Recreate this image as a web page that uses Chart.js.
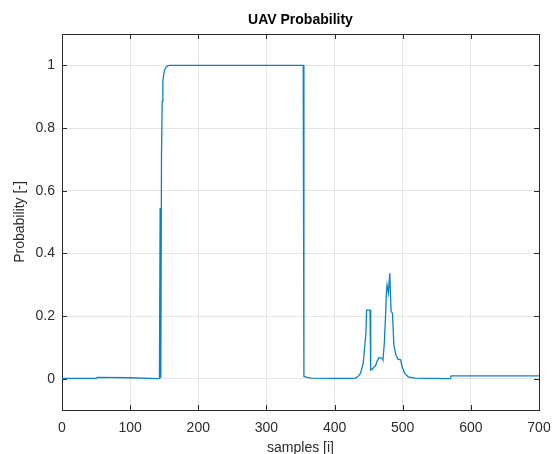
<!DOCTYPE html>
<html>
<head>
<meta charset="utf-8">
<script src="https://cdn.jsdelivr.net/npm/chart.js@4/dist/chart.umd.min.js"></script>
<style>
  html, body { margin: 0; padding: 0; background: #fff; }
  #wrap { width: 554px; height: 454px; position: relative; }
</style>
</head>
<body>
<div id="wrap"><canvas id="c" width="554" height="454"></canvas></div>
<script>
// Detection probability per sample index
const samples = [
  0, 50, 52, 99, 141, 143, 144, 145, 146, 147, 148, 150, 152, 155, 158,
  354, 355, 360, 366, 400, 427, 430, 434, 438, 442, 444, 446, 447, 452, 453,
  456, 458, 460, 462, 465, 470, 471, 473, 475, 476, 477, 479, 481, 482, 483,
  485, 487, 490, 493, 497, 499, 503, 508, 518, 535, 570, 571, 700
];
const probability = [
  0.001, 0.001, 0.004, 0.003, 0.000, 0.001, 0.545, 0.002, 0.710, 0.885, 0.950, 0.980, 0.993, 0.998, 1.000,
  1.000, 0.007, 0.004, 0.002, 0.001, 0.001, 0.002, 0.006, 0.017, 0.049, 0.097, 0.145, 0.219, 0.219, 0.028,
  0.031, 0.038, 0.040, 0.054, 0.067, 0.065, 0.060, 0.113, 0.209, 0.273, 0.299, 0.273, 0.336, 0.273, 0.214,
  0.209, 0.108, 0.076, 0.062, 0.060, 0.038, 0.017, 0.006, 0.002, 0.001, 0.000, 0.009, 0.009
];
const xTicks = [0, 100, 200, 300, 400, 500, 600, 700];
const yTicks = [0, 0.2, 0.4, 0.6, 0.8, 1];

const titleText = 'UAV Probability';
const xLabel = 'samples [i]';
const yLabel = 'Probability [-]';

const axisColor = '#2b2b2b';
const gridColor = '#e4e4e4';
const fontFamily = '"Liberation Sans", Arial, Helvetica, sans-serif';

// Box around the axes, inward tick marks on all four sides, and the title
const axesBox = {
  id: 'axesBox',
  beforeDatasetsDraw(chart) {
    const { ctx, chartArea: a, scales } = chart;
    const tl = 5;
    ctx.save();
    ctx.strokeStyle = axisColor;
    ctx.lineWidth = 1;
    ctx.beginPath();
    scales.x.ticks.forEach(t => {
      const px = Math.round(scales.x.getPixelForValue(t.value)) + 0.5;
      ctx.moveTo(px, a.bottom); ctx.lineTo(px, a.bottom - tl);
      ctx.moveTo(px, a.top); ctx.lineTo(px, a.top + tl);
    });
    scales.y.ticks.forEach(t => {
      const py = Math.round(scales.y.getPixelForValue(t.value)) + 0.5;
      ctx.moveTo(a.left, py); ctx.lineTo(a.left + tl, py);
      ctx.moveTo(a.right, py); ctx.lineTo(a.right - tl, py);
    });
    ctx.stroke();
    ctx.strokeRect(Math.round(a.left) + 0.5, Math.round(a.top) + 0.5,
                   Math.round(a.right - a.left), Math.round(a.bottom - a.top));
    ctx.restore();
  },
  afterDraw(chart) {
    const { ctx, chartArea: a } = chart;
    ctx.save();
    ctx.fillStyle = '#000';
    ctx.font = 'bold 14px ' + fontFamily;
    ctx.textAlign = 'center';
    ctx.textBaseline = 'middle';
    ctx.fillText(titleText, (a.left + a.right) / 2, 20);
    ctx.restore();
  }
};

new Chart(document.getElementById('c'), {
  type: 'line',
  data: {
    datasets: [{
      data: samples.map((s, i) => ({ x: s, y: probability[i] })),
      borderColor: '#0a82c8',
      borderWidth: 1.3,
      pointRadius: 0,
      tension: 0,
      fill: false
    }]
  },
  options: {
    responsive: false,
    animation: false,
    events: [],
    layout: { padding: { top: 34, right: 15, bottom: 0, left: 0 } },
    plugins: {
      legend: { display: false },
      title: { display: false },
      tooltip: { enabled: false }
    },
    scales: {
      x: {
        type: 'linear',
        min: 0,
        max: 700,
        afterBuildTicks: s => { s.ticks = xTicks.map(v => ({ value: v })); },
        afterFit: s => { s.height = 44; s.paddingLeft = 0; s.paddingRight = 0; },
        ticks: {
          autoSkip: false, maxRotation: 0, padding: 10,
          color: axisColor,
          font: { family: fontFamily, size: 14 },
          callback: v => String(v)
        },
        grid: { color: gridColor, drawTicks: false },
        border: { display: false },
        title: {
          display: true, text: xLabel, color: axisColor,
          font: { family: fontFamily, size: 14 },
          padding: { top: 0, bottom: -3 }
        }
      },
      y: {
        type: 'linear',
        min: -0.1,
        max: 1.1,
        afterBuildTicks: s => { s.ticks = yTicks.map(v => ({ value: v })); },
        afterFit: s => { s.width = 62; s.paddingTop = 0; s.paddingBottom = 0; },
        ticks: {
          padding: 7,
          color: axisColor,
          font: { family: fontFamily, size: 14 },
          callback: v => String(v)
        },
        grid: { color: gridColor, drawTicks: false },
        border: { display: false },
        title: {
          display: true, text: yLabel, color: axisColor,
          font: { family: fontFamily, size: 14 },
          padding: { top: 12, bottom: 0 }
        }
      }
    }
  },
  plugins: [axesBox]
});
</script>
</body>
</html>
